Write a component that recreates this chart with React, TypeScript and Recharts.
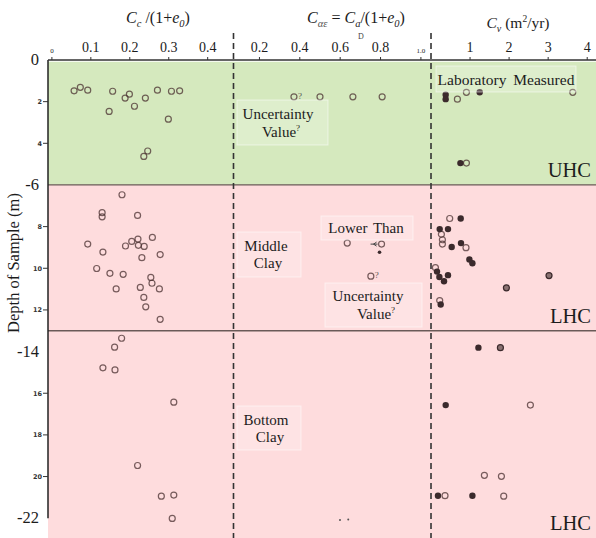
import React from 'react';
import { ScatterChart, Scatter, XAxis, YAxis, ReferenceArea, ReferenceLine } from 'recharts';

// depth of sample (m), positive downwards
const depthTicks = [0, 2, 4, 6, 8, 10, 12, 14, 16, 18, 20, 22];
const bigDepths = [0, 6, 14, 22];
const UHC_BOTTOM = 6;
const MIDDLE_BOTTOM = 13;
const DEPTH_MAX = 22.95;

// Cc/(1+e0)
const ccTicks = [0, 0.1, 0.2, 0.3, 0.4];
const ccValue = [
  0.057, 0.073, 0.092, 0.156, 0.147, 0.199, 0.188, 0.212, 0.24, 0.271, 0.307, 0.328, 0.299, 0.246, 0.236,
  0.18, 0.129, 0.129, 0.22, 0.258, 0.221, 0.205, 0.092, 0.189, 0.222, 0.237, 0.131, 0.231, 0.278, 0.115,
  0.149, 0.183, 0.254, 0.257, 0.165, 0.227, 0.276, 0.236, 0.241, 0.278,
  0.179, 0.161, 0.131, 0.162, 0.313, 0.22, 0.281, 0.313, 0.309,
];
const ccDepth = [
  1.48, 1.31, 1.45, 1.5, 2.47, 1.64, 1.83, 2.22, 1.83, 1.45, 1.5, 1.48, 2.84, 4.37, 4.63,
  6.47, 7.33, 7.53, 7.46, 8.52, 8.6, 8.71, 8.84, 8.93, 8.9, 8.95, 9.22, 9.49, 9.34, 10.01,
  10.24, 10.29, 10.44, 10.72, 10.99, 10.92, 10.99, 11.4, 11.85, 12.45,
  13.36, 13.79, 14.78, 14.88, 16.43, 19.47, 20.94, 20.89, 22.01,
];

// C_alpha_e = Ca/(1+e0)
const caeTicks = [0.2, 0.4, 0.6, 0.8, 1.0];
const caeOpenValue = [0.371, 0.5, 0.663, 0.808, 0.635, 0.805, 0.752];
const caeOpenDepth = [1.77, 1.77, 1.77, 1.77, 8.79, 8.84, 10.38];
const caeOpenNote = ['?', '', '', '', '', 'lower', '?'];
const caeDotValue = [0.795];
const caeDotDepth = [9.23];
const caeSpeckValue = [0.599, 0.64];
const caeSpeckDepth = [22.09, 22.06];

// Cv (m2/yr)
const cvTicks = [1, 2, 3, 4];
const cvOpenValue = [0.676, 0.907, 3.63, 0.907, 0.479, 0.266, 0.292, 0.292, 0.896, 0.113, 0.223, 2.545, 1.367, 1.803, 0.359, 1.862];
const cvOpenDepth = [1.88, 1.55, 1.55, 4.95, 7.61, 8.37, 8.63, 8.84, 9.01, 9.97, 11.55, 16.57, 19.94, 19.99, 20.92, 20.94];
const cvFilledValue = [0.376, 0.376, 1.247, 0.753, 0.761, 0.223, 0.435, 0.53, 0.768, 0.983, 1.06, 0.154, 0.215, 0.435, 0.333, 0.248, 1.214, 0.376, 0.179, 1.06];
const cvFilledDepth = [1.67, 1.88, 1.55, 4.95, 7.61, 8.12, 8.12, 8.98, 8.79, 9.58, 9.76, 10.16, 10.42, 10.33, 10.62, 11.74, 13.81, 16.57, 20.92, 20.92];
const cvHalfValue = [3.022, 1.931, 1.777];
const cvHalfDepth = [10.35, 10.94, 13.81];

const serif = "'Liberation Serif', 'Times New Roman', Times, serif";
const ink = '#1c1c1c';
const green = '#d5e9be';
const pink = '#fedcdd';
const ringColor = '#4a3030';
const dotColor = '#3b2a2c';

const zip = (xs: number[], ds: number[], notes?: string[]) =>
  xs.map((x, i) => ({ x, d: ds[i], note: notes ? notes[i] : '' }));

const OpenDot = (p: any) => {
  const { cx, cy, payload } = p;
  return (
    <g>
      <circle cx={cx} cy={cy} r={3} fill="none" stroke={ringColor} strokeOpacity={0.75} strokeWidth={1.2} />
      {payload?.note === '?' && (
        <text x={cx + 4} y={cy + 2} fontSize={9} fontFamily={serif} fill="#555">?</text>
      )}
      {payload?.note === 'lower' && (
        <g stroke="#444" strokeWidth={1} fill="none">
          <line x1={cx - 11} x2={cx - 4} y1={cy} y2={cy} />
          <path d={`M ${cx - 5} ${cy - 2} L ${cx - 8} ${cy} L ${cx - 5} ${cy + 2}`} />
        </g>
      )}
    </g>
  );
};
const FilledDot = (p: any) => <circle cx={p.cx} cy={p.cy} r={3.2} fill={dotColor} />;
const HalfDot = (p: any) => (
  <circle cx={p.cx} cy={p.cy} r={3} fill="#8a7272" stroke={dotColor} strokeWidth={1.2} />
);
const SmallDot = (p: any) => <circle cx={p.cx} cy={p.cy} r={1.8} fill={dotColor} />;
const Speck = (p: any) => <circle cx={p.cx} cy={p.cy} r={1} fill="#555" />;

const makeTopTick = (tiny: number[], digits: number) => (p: any) => {
  const { x, y, payload } = p;
  const v = payload.value;
  const small = tiny.includes(v);
  return (
    <g>
      <line x1={x} x2={x} y1={y} y2={y - 3} stroke="#333" />
      <text
        x={x}
        y={small ? y - 7 : y - 8}
        textAnchor="middle"
        fontSize={small ? 7 : 14}
        fontFamily={serif}
        fill={ink}
      >
        {v === 0 ? '0' : v.toFixed(digits)}
      </text>
    </g>
  );
};

const DepthTick = (p: any) => {
  const { x, y, payload } = p;
  const v = payload.value;
  if (bigDepths.includes(v)) {
    return (
      <text x={x - 9} y={y} dy={5} textAnchor="end" fontSize={16.5} fontFamily={serif} fill={ink}>
        {v === 0 ? '0' : `-${v}`}
      </text>
    );
  }
  return (
    <g>
      <line x1={x - 5} x2={x} y1={y} y2={y} stroke="#333" />
      <text x={x - 6} y={y} dy={2.5} textAnchor="end" fontSize={6.5} fontWeight="bold" fontFamily="'DejaVu Sans', sans-serif" fill="#333">
        {v}
      </text>
    </g>
  );
};

const Bands = () => [
  <ReferenceArea key="g" y1={0.08} y2={UHC_BOTTOM} fill={green} fillOpacity={1} stroke="none" />,
  <ReferenceArea key="p" y1={UHC_BOTTOM} y2={DEPTH_MAX} fill={pink} fillOpacity={1} stroke="none" />,
  <ReferenceLine key="l1" y={UHC_BOTTOM} stroke="#6a5a58" strokeWidth={1.3} />,
  <ReferenceLine key="l2" y={MIDDLE_BOTTOM} stroke="#6a5a58" strokeWidth={1.3} />,
];

const H = 538;
const margin = { top: 30, right: 0, bottom: 0, left: 0 };

function Panel({ width, domain, ticks, tick, children, withDepthAxis }: any) {
  return (
    <ScatterChart width={width} height={H} margin={margin}>
      <XAxis
        type="number"
        dataKey="x"
        orientation="top"
        height={30}
        domain={domain}
        ticks={ticks}
        interval={0}
        allowDataOverflow
        tick={tick}
        tickSize={0}
        tickMargin={0}
        tickLine={false}
        axisLine={{ stroke: '#333', strokeWidth: 1.5 }}
      />
      {withDepthAxis ? (
        <YAxis
          type="number"
          dataKey="d"
          width={48}
          domain={[0, DEPTH_MAX]}
          reversed
          ticks={depthTicks}
          interval={0}
          allowDataOverflow
          tick={<DepthTick />}
          tickSize={0}
          tickMargin={0}
          tickLine={false}
          axisLine={false}
        />
      ) : (
        <YAxis type="number" dataKey="d" hide domain={[0, DEPTH_MAX]} reversed allowDataOverflow />
      )}
      {Bands()}
      {withDepthAxis && (
        <ReferenceLine
          segment={[{ x: domain[0], y: 0 }, { x: domain[0], y: 22 }]}
          stroke="#222"
          strokeWidth={1.5}
        />
      )}
      {children}
    </ScatterChart>
  );
}

export default function App() {
  return (
    <div style={{ position: 'relative', width: 596, height: H, overflow: 'hidden', background: '#fff' }}>
      <style>{'body{margin:0}'}</style>
      <div style={{ position: 'absolute', left: 0, top: 0 }}>
        <Panel width={233} domain={[-0.01, 0.465]} ticks={ccTicks} tick={makeTopTick([0], 1)} withDepthAxis>
          <Scatter data={zip(ccValue, ccDepth)} shape={OpenDot} isAnimationActive={false} />
        </Panel>
      </div>
      <div style={{ position: 'absolute', left: 233, top: 0 }}>
        <Panel width={198} domain={[0.069, 1.05]} ticks={caeTicks} tick={makeTopTick([1.0], 1)}>
          <Scatter data={zip(caeOpenValue, caeOpenDepth, caeOpenNote)} shape={OpenDot} isAnimationActive={false} />
          <Scatter data={zip(caeDotValue, caeDotDepth)} shape={SmallDot} isAnimationActive={false} />
          <Scatter data={zip(caeSpeckValue, caeSpeckDepth)} shape={Speck} isAnimationActive={false} />
        </Panel>
      </div>
      <div style={{ position: 'absolute', left: 431, top: 0 }}>
        <Panel width={165} domain={[0, 4.225]} ticks={cvTicks} tick={makeTopTick([], 0)}>
          <Scatter data={zip(cvOpenValue, cvOpenDepth)} shape={OpenDot} isAnimationActive={false} />
          <Scatter data={zip(cvFilledValue, cvFilledDepth)} shape={FilledDot} isAnimationActive={false} />
          <Scatter data={zip(cvHalfValue, cvHalfDepth)} shape={HalfDot} isAnimationActive={false} />
        </Panel>
      </div>

      <svg width={596} height={H} style={{ position: 'absolute', left: 0, top: 0, pointerEvents: 'none' }} fontFamily={serif}>
        {/* panel separators */}
        <line x1={233.5} x2={233.5} y1={33} y2={H} stroke="#333" strokeWidth={1.6} strokeDasharray="6 4" />
        <line x1={431} x2={431} y1={33} y2={H} stroke="#333" strokeWidth={1.6} strokeDasharray="6 4" />

        {/* titles */}
        <text x={158} y={23} textAnchor="middle" fontSize={16} fill={ink}>
          <tspan fontStyle="italic">C</tspan>
          <tspan fontStyle="italic" fontSize={10.5} dy={4}>c</tspan>
          <tspan dy={-4}> /(1+</tspan>
          <tspan fontStyle="italic">e</tspan>
          <tspan fontStyle="italic" fontSize={10.5} dy={4}>0</tspan>
          <tspan dy={-4}>)</tspan>
        </text>
        <text x={356} y={23} textAnchor="middle" fontSize={16} fill={ink}>
          <tspan fontStyle="italic">C</tspan>
          <tspan fontStyle="italic" fontSize={10.5} dy={4} fill="#555">αε</tspan>
          <tspan dy={-4}> = </tspan>
          <tspan fontStyle="italic">C</tspan>
          <tspan fontStyle="italic" fontSize={10.5} dy={4}>a</tspan>
          <tspan dy={-4}>/(1+</tspan>
          <tspan fontStyle="italic">e</tspan>
          <tspan fontStyle="italic" fontSize={10.5} dy={4}>0</tspan>
          <tspan dy={-4}>)</tspan>
        </text>
        <text x={518} y={28} textAnchor="middle" fontSize={15.5} fill={ink}>
          <tspan fontStyle="italic">C</tspan>
          <tspan fontStyle="italic" fontSize={10} dy={4}>v</tspan>
          <tspan dy={-4}> (m</tspan>
          <tspan fontSize={9.5} dy={-6}>2</tspan>
          <tspan dy={6}>/yr)</tspan>
        </text>
        <text x={361} y={39} textAnchor="middle" fontSize={8} fill="#444">D</text>

        {/* depth axis title */}
        <text x={19} y={263} transform="rotate(-90 19 263)" textAnchor="middle" fontSize={16.5} fill={ink}>
          Depth of Sample (m)
        </text>

        {/* annotation boxes */}
        <g fill="#fff" fillOpacity={0.22} stroke="#fff" strokeOpacity={0.5}>
          <rect x={436} y={66} width={140} height={26} />
          <rect x={237} y={100} width={91} height={45} />
          <rect x={237} y={232} width={64} height={45} />
          <rect x={321} y={216} width={92} height={24} />
          <rect x={325} y={283} width={97} height={44} />
          <rect x={237} y={406} width={64} height={44} />
        </g>
        <g fill={ink} fontSize={15}>
          <text x={506} y={85} textAnchor="middle" fontSize={15.5} wordSpacing={3}>Laboratory Measured</text>
          <text x={278} y={119} textAnchor="middle">Uncertainty</text>
          <text x={281} y={137} textAnchor="middle">
            Value<tspan fontSize={9} dy={-6}>?</tspan>
          </text>
          <text x={266} y={251} textAnchor="middle">Middle</text>
          <text x={268} y={268} textAnchor="middle">Clay</text>
          <text x={366} y={233} textAnchor="middle" wordSpacing={2}>Lower Than</text>
          <text x={368} y={301} textAnchor="middle">Uncertainty</text>
          <text x={376} y={319} textAnchor="middle">
            Value<tspan fontSize={9} dy={-6}>?</tspan>
          </text>
          <text x={266} y={425} textAnchor="middle">Bottom</text>
          <text x={270} y={442} textAnchor="middle">Clay</text>
        </g>
        <g fill={ink} fontSize={20.5} textAnchor="end">
          <text x={591} y={177}>UHC</text>
          <text x={591} y={323}>LHC</text>
          <text x={591} y={530}>LHC</text>
        </g>
      </svg>
    </div>
  );
}
